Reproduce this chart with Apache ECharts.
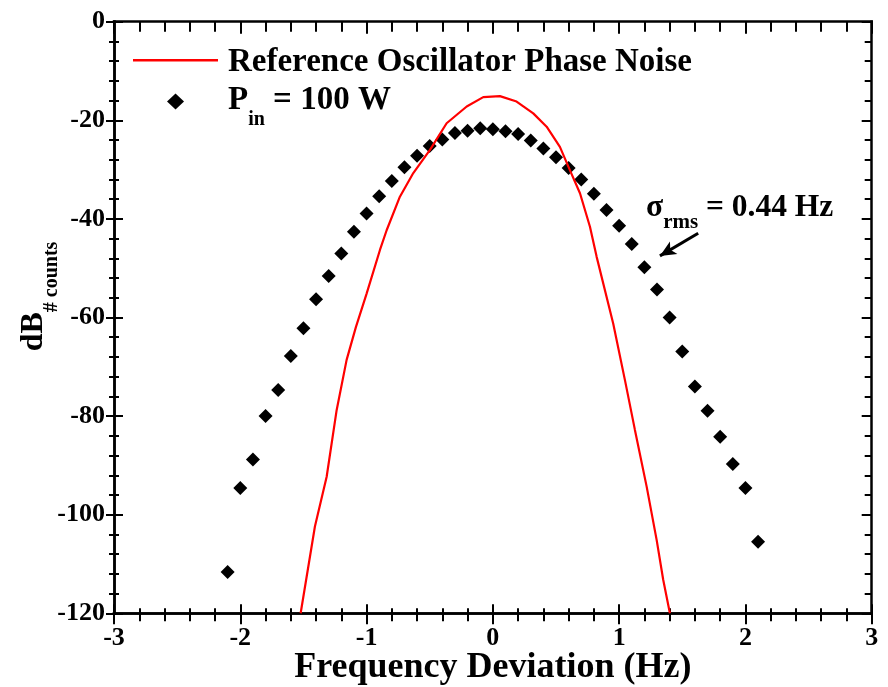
<!DOCTYPE html>
<html><head><meta charset="utf-8">
<script src="https://cdn.jsdelivr.net/npm/echarts@6/dist/echarts.min.js"></script>
<style>html,body{margin:0;padding:0;background:#fff}#c{width:888px;height:687px}</style>
</head><body><div id="c"></div>
<script>
// ---- data ----
const xTickLabels = ['-3', '-2', '-1', '0', '1', '2', '3'];
const yTickLabels = ['-120', '-100', '-80', '-60', '-40', '-20', '0'];

const pinX = [-2.1, -2.0, -1.9, -1.8, -1.7, -1.6, -1.5, -1.4, -1.3, -1.2, -1.1, -1.0, -0.9, -0.8, -0.7,
  -0.6, -0.5, -0.4, -0.3, -0.2, -0.1, 0.0, 0.1, 0.2, 0.3, 0.4, 0.5, 0.6, 0.7, 0.8, 0.9, 1.0, 1.1, 1.2,
  1.3, 1.4, 1.5, 1.6, 1.7, 1.8, 1.9, 2.0, 2.1];
const pinDb = [-111.6, -94.6, -88.8, -80.0, -74.7, -67.8, -62.2, -56.3, -51.6, -47.0, -42.6, -38.9,
  -35.4, -32.3, -29.5, -27.2, -25.2, -23.9, -22.6, -22.1, -21.6, -21.8, -22.2, -22.8, -24.1, -25.7,
  -27.5, -29.7, -32.0, -34.9, -38.2, -41.4, -45.1, -49.8, -54.3, -60.0, -66.9, -74.0, -78.9, -84.2,
  -89.7, -94.6, -105.5];

const refX = [-1.522, -1.409, -1.316, -1.237, -1.158, -1.084, -0.999, -0.894, -0.841, -0.736, -0.630,
  -0.498, -0.366, -0.207, -0.076, 0.056, 0.188, 0.320, 0.426, 0.531, 0.610, 0.690, 0.769, 0.822,
  0.953, 1.046, 1.125, 1.218, 1.297, 1.349, 1.402];
const refDb = [-120, -102.4, -92.3, -78.8, -68.6, -61.9, -55.1, -46.3, -42.3, -35.5, -30.7,
  -26.0, -20.6, -17.2, -15.3, -15.1, -16.2, -18.6, -21.3, -25.4, -30.1, -34.8, -41.6, -47.7,
  -61.2, -72.7, -82.8, -94.3, -105.1, -113.2, -120];

const arrowFrom = [1.626, -42.9];
const arrowTo = [1.323, -47.5];

const refName = 'Reference Oscillator Phase Noise';
const pinName = 'Pin = 100 W';

// ---- chart ----
const FF = "'Liberation Serif', 'Times New Roman', serif";
const chart = echarts.init(document.getElementById('c'), null, {renderer: 'canvas'});

const gridRect = {left: 114, right: 16.3, top: 21.7, bottom: 73.7, containLabel: false, outerBoundsMode: 'none'};
const lineBlack = {color: '#000', width: 2.5, cap: 'square'};
const tickStyle = {color: '#000', width: 2};

function xAx(extra) {
  return Object.assign({
    type: 'value', min: -3, max: 3, interval: 1,
    axisLine: {show: true, onZero: false, lineStyle: lineBlack},
    splitLine: {show: false},
    axisLabel: {show: false},
    minorTick: {show: true, splitNumber: 5, length: 6, lineStyle: tickStyle},
    axisTick: {show: true, length: 10, lineStyle: tickStyle}
  }, extra);
}
function yAx(extra) {
  return Object.assign({
    type: 'value', min: -120, max: 0, interval: 20,
    axisLine: {show: true, onZero: false, lineStyle: lineBlack},
    splitLine: {show: false},
    axisLabel: {show: false},
    minorTick: {show: true, splitNumber: 5, length: 5, lineStyle: tickStyle},
    axisTick: {show: true, length: 8, lineStyle: tickStyle}
  }, extra);
}

const bigTok = {fontFamily: FF, fontWeight: 'bold', fontSize: 33, lineHeight: 24, verticalAlign: 'middle', color: '#000'};
const subTok = {fontFamily: FF, fontWeight: 'bold', fontSize: 20, lineHeight: 24, verticalAlign: 'middle', color: '#000'};

const legendBase = {
  orient: 'vertical', left: 133, padding: 0, itemGap: 0,
  itemWidth: 85, itemHeight: 17, selectedMode: false
};

const option = {
  backgroundColor: '#fff',
  animation: false,
  grid: [Object.assign({}, gridRect), Object.assign({}, gridRect)],
  xAxis: [
    xAx({gridIndex: 0, position: 'bottom',
      axisTick: {show: true, inside: false, length: 11, lineStyle: tickStyle},
      minorTick: {show: true, splitNumber: 5, length: 8, lineStyle: tickStyle},
      axisLabel: {show: true, margin: 12, color: '#000', fontFamily: FF, fontWeight: 'bold', fontSize: 26,
        formatter: v => xTickLabels[Math.round(v + 3)]},
      name: 'Frequency Deviation (Hz)', nameLocation: 'middle', nameGap: 34.7, nameMoveOverlap: false,
      nameTextStyle: {color: '#000', fontFamily: FF, fontWeight: 'bold', fontSize: 36, lineHeight: 40}
    }),
    xAx({gridIndex: 0, position: 'top',
      axisTick: {show: true, inside: true, length: 12, lineStyle: tickStyle},
      minorTick: {show: true, splitNumber: 5, length: 10, lineStyle: tickStyle}}),
    xAx({gridIndex: 1, position: 'bottom',
      axisTick: {show: true, inside: true, length: 9, lineStyle: tickStyle},
      minorTick: {show: true, splitNumber: 5, length: 5, lineStyle: tickStyle}})
  ],
  yAxis: [
    yAx({gridIndex: 0, position: 'left',
      axisTick: {show: true, inside: false, length: 8, lineStyle: tickStyle},
      minorTick: {show: true, splitNumber: 5, length: 5, lineStyle: tickStyle},
      axisLabel: {show: true, margin: 9, color: '#000', fontFamily: FF, fontWeight: 'bold', fontSize: 26,
        formatter: v => yTickLabels[Math.round((v + 120) / 20)]},
      name: '{a|dB}{b|# counts}', nameLocation: 'middle', nameRotate: 90, nameGap: 75, nameMoveOverlap: false,
      nameTextStyle: {color: '#000', rich: {
        a: {fontFamily: FF, fontWeight: 'bold', fontSize: 32, lineHeight: 10, verticalAlign: 'middle',
            padding: [0, 0, 0, 42], color: '#000'},
        b: {fontFamily: FF, fontWeight: 'bold', fontSize: 20, lineHeight: 10, verticalAlign: 'middle',
            padding: [36, 0, 0, 0], color: '#000'}
      }}
    }),
    yAx({gridIndex: 0, position: 'right',
      axisTick: {show: true, inside: true, length: 10, lineStyle: tickStyle},
      minorTick: {show: true, splitNumber: 5, length: 7, lineStyle: tickStyle}}),
    yAx({gridIndex: 1, position: 'left',
      axisTick: {show: true, inside: true, length: 9, lineStyle: tickStyle},
      minorTick: {show: true, splitNumber: 5, length: 5, lineStyle: tickStyle}})
  ],
  legend: [
    Object.assign({}, legendBase, {
      top: 41,
      data: [{name: refName, icon: 'path://M0,0L85,0L85,2.5L0,2.5Z'}],
      formatter: () => '{p|' + refName + '}',
      textStyle: {color: '#000', rich: {
        p: Object.assign({}, bigTok, {padding: [5.4, 0, 0, 5]})
      }}
    }),
    Object.assign({}, legendBase, {
      top: 73,
      data: [{name: pinName, icon: 'path://M0,8L0,8M85,8L85,8M42.5,0L51,8L42.5,16L34,8Z'}],
      formatter: () => '{p|P}{s|in}{m| = 100 W}',
      textStyle: {color: '#000', rich: {
        p: Object.assign({}, bigTok, {padding: [0, 0, 2, 5]}),
        m: Object.assign({}, bigTok, {padding: [0, 0, 2, 0]}),
        s: Object.assign({}, subTok, {padding: [37, 0, 0, 0]})
      }}
    })
  ],
  graphic: [{
    type: 'text', x: 646, y: 207.7, z: 100,
    style: {
      text: '{a|σ}{b|rms}{a| = 0.44 Hz}',
      align: 'left', verticalAlign: 'middle',
      rich: {
        a: {fontFamily: FF, fontWeight: 'bold', fontSize: 31.5, lineHeight: 10, verticalAlign: 'middle', fill: '#000'},
        b: {fontFamily: FF, fontWeight: 'bold', fontSize: 21, lineHeight: 10, verticalAlign: 'middle',
            padding: [30.6, 0, 0, 0], fill: '#000'}
      }
    }
  }],
  series: [
    {
      name: pinName, type: 'scatter', xAxisIndex: 0, yAxisIndex: 0,
      symbol: 'diamond', symbolSize: 14,
      itemStyle: {color: '#000', opacity: 1},
      data: pinX.map((x, i) => [x, pinDb[i]]),
      markLine: {
        silent: true, animation: false,
        symbol: ['none', 'arrow'], symbolSize: [11, 16],
        lineStyle: {color: '#000', width: 3, type: 'solid'},
        label: {show: false},
        data: [[{coord: arrowFrom}, {coord: arrowTo}]]
      },
      z: 2
    },
    {
      name: refName, type: 'line', xAxisIndex: 0, yAxisIndex: 0,
      showSymbol: false, symbol: 'none', smooth: false,
      lineStyle: {color: '#ff0000', width: 2.2},
      itemStyle: {color: '#ff0000'},
      data: refX.map((x, i) => [x, refDb[i]]),
      z: 3
    }
  ]
};
chart.setOption(option);
</script>
</body></html>
